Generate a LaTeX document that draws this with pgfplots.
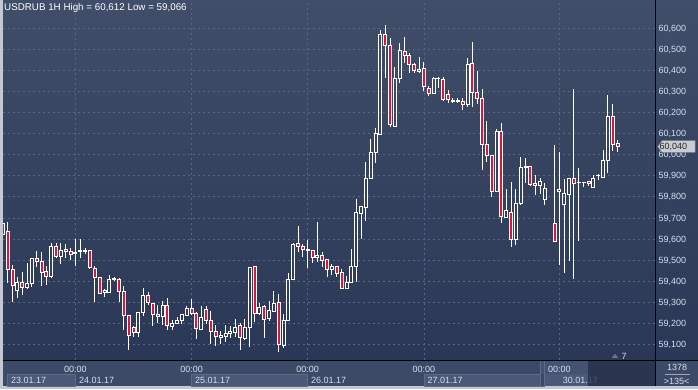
\documentclass[border=0pt]{standalone}
\usepackage{fontspec}
\setmainfont{Liberation Sans}
\usepackage{pgfplots}
\usepackage{pgfplotstable}
\pgfplotsset{compat=1.18}
\definecolor{framecol}{HTML}{C2C8D4}
\definecolor{bgtop}{HTML}{404E69}
\definecolor{bgbot}{HTML}{2A3756}
\definecolor{stripcol}{HTML}{3D4A67}
\definecolor{datebox}{HTML}{4B5877}
\definecolor{boxline}{HTML}{5E6A86}
\definecolor{darkreg}{HTML}{26324B}
\definecolor{gridcol}{HTML}{56658A}
\definecolor{labelcol}{HTML}{D4E0F2}
\definecolor{candlered}{RGB}{226,18,56}
\definecolor{pricebox}{HTML}{C8CCD4}
\definecolor{tricol}{HTML}{6A7488}
\newcommand\fs{\fontsize{9}{10}\selectfont}
\newcommand\ft{\fontsize{9.8}{11}\selectfont}
\pgfplotstableread{
i o h l c
1 59.674 59.680 59.619 59.622
2 59.638 59.680 59.390 59.456
3 59.456 59.477 59.303 59.380
4 59.355 59.418 59.322 59.396
5 59.396 59.444 59.336 59.371
6 59.369 59.485 59.365 59.390
7 59.390 59.508 59.374 59.508
8 59.508 59.543 59.469 59.494
9 59.494 59.538 59.379 59.442
10 59.448 59.472 59.384 59.423
11 59.421 59.583 59.418 59.567
12 59.567 59.583 59.511 59.516
13 59.516 59.579 59.483 59.548
14 59.551 59.576 59.508 59.543
15 59.541 59.556 59.500 59.529
16 59.530 59.600 59.474 59.535
17 59.543 59.598 59.508 59.544
18 59.544 59.556 59.527 59.543
19 59.546 59.546 59.461 59.464
20 59.461 59.472 59.303 59.418
21 59.418 59.418 59.342 59.342
22 59.346 59.361 59.327 59.355
23 59.349 59.428 59.342 59.409
24 59.406 59.421 59.401 59.414
25 59.409 59.414 59.303 59.353
26 59.353 59.377 59.169 59.238
27 59.238 59.238 59.074 59.143
28 59.183 59.188 59.137 59.158
29 59.158 59.252 59.137 59.252
30 59.252 59.366 59.235 59.333
31 59.333 59.350 59.287 59.298
32 59.295 59.295 59.189 59.243
33 59.243 59.287 59.200 59.232
34 59.232 59.306 59.192 59.285
35 59.285 59.319 59.169 59.188
36 59.185 59.216 59.169 59.200
37 59.200 59.232 59.197 59.214
38 59.214 59.243 59.197 59.243
39 59.240 59.282 59.235 59.271
40 59.271 59.316 59.240 59.248
41 59.248 59.256 59.125 59.177
42 59.172 59.282 59.169 59.229
43 59.268 59.282 59.197 59.216
44 59.213 59.259 59.101 59.164
45 59.162 59.192 59.094 59.140
46 59.134 59.165 59.101 59.145
47 59.140 59.192 59.113 59.153
48 59.153 59.188 59.129 59.164
49 59.158 59.221 59.137 59.181
50 59.188 59.200 59.074 59.134
51 59.128 59.219 59.125 59.181
52 59.181 59.466 59.090 59.466
53 59.472 59.472 59.208 59.248
54 59.248 59.295 59.240 59.276
55 59.279 59.287 59.129 59.219
56 59.224 59.308 59.213 59.259
57 59.257 59.353 59.254 59.295
58 59.300 59.339 59.066 59.102
59 59.094 59.245 59.082 59.216
60 59.216 59.440 59.216 59.409
61 59.409 59.583 59.406 59.575
62 59.579 59.662 59.537 59.567
63 59.564 59.575 59.513 59.551
64 59.548 59.595 59.461 59.549
65 59.548 59.548 59.485 59.513
66 59.513 59.682 59.493 59.524
67 59.524 59.537 59.466 59.497
68 59.504 59.504 59.418 59.456
69 59.456 59.482 59.429 59.469
70 59.472 59.472 59.421 59.437
71 59.442 59.456 59.363 59.366
72 59.366 59.425 59.363 59.395
73 59.395 59.553 59.390 59.472
74 59.472 59.790 59.395 59.726
75 59.722 59.758 59.598 59.753
76 59.750 59.963 59.687 59.887
77 59.887 60.074 59.887 60.011
78 60.011 60.124 59.959 60.098
79 60.096 60.590 60.093 60.570
80 60.570 60.612 60.361 60.519
81 60.519 60.551 60.129 60.145
82 60.135 60.417 60.132 60.361
83 60.361 60.530 60.338 60.493
84 60.491 60.559 60.436 60.469
85 60.472 60.480 60.388 60.428
86 60.429 60.436 60.385 60.398
87 60.393 60.464 60.388 60.404
88 60.409 60.440 60.303 60.325
89 60.314 60.325 60.279 60.290
90 60.290 60.369 60.290 60.361
91 60.361 60.366 60.314 60.362
92 60.357 60.369 60.254 60.262
93 60.287 60.306 60.246 60.259
94 60.254 60.267 60.246 60.255
95 60.254 60.267 60.243 60.255
96 60.251 60.267 60.211 60.240
97 60.240 60.456 60.227 60.428
98 60.432 60.532 60.224 60.295
99 60.295 60.396 60.240 60.267
100 60.267 60.309 59.927 60.049
101 60.049 60.161 59.963 59.995
102 59.998 59.998 59.797 59.824
103 59.824 60.121 59.824 60.112
104 60.112 60.148 59.674 59.706
105 59.703 59.835 59.703 59.733
106 59.726 59.869 59.560 59.598
107 59.598 59.835 59.571 59.769
108 59.769 59.990 59.761 59.938
109 59.938 59.982 59.864 59.943
110 59.943 59.946 59.853 59.859
111 59.864 59.903 59.808 59.853
112 59.853 59.887 59.813 59.875
113 59.788 59.864 59.761 59.840
115 59.674 60.045 59.587 59.587
116 59.824 60.011 59.477 59.835
117 59.764 59.884 59.440 59.816
118 59.812 59.888 59.497 59.888
119 59.888 60.309 59.410 59.864
120 59.867 59.935 59.592 59.868
121 59.868 59.872 59.845 59.869
122 59.875 59.875 59.851 59.864
123 59.843 59.903 59.843 59.888
124 59.899 59.908 59.880 59.900
125 59.892 60.022 59.888 59.971
126 59.971 60.282 59.914 60.180
127 60.180 60.240 60.019 60.049
128 60.053 60.069 60.014 60.040
}\candles
\pgfplotsset{candleaxis/.style={at={(3pt,29pt)}, anchor=south west, scale only axis,
  width=652pt, height=360pt, xmin=1.037, xmax=135.75, ymin=59.0265, ymax=60.7327}}
\begin{document}
\begin{tikzpicture}
\useasboundingbox (0pt,0pt) rectangle (698pt,389pt);
\fill[framecol] (0pt,0pt) rectangle (698pt,389pt);
\shade[top color=bgtop, bottom color=bgbot] (3pt,29pt) rectangle (698pt,389pt);
\fill[stripcol] (3pt,3pt) rectangle (698pt,28.5pt);
% date boxes
\fill[datebox] (7.5pt,3pt) rectangle (75.4pt,15pt);
\fill[datebox] (191.6pt,3pt) rectangle (307.7pt,15pt);
\fill[datebox] (423.9pt,3pt) rectangle (540pt,15pt);
\fill[datebox!60!stripcol] (540pt,15pt) rectangle (588pt,28.5pt);
\fill[datebox] (544pt,3pt) rectangle (588pt,15pt);
\draw[boxline, line width=0.6pt] (7.5pt,3pt) rectangle (75.4pt,15pt);
\draw[boxline, line width=0.6pt] (191.6pt,3pt) rectangle (307.7pt,15pt);
\draw[boxline, line width=0.6pt] (423.9pt,3pt) rectangle (540pt,15pt);
\draw[boxline, line width=0.6pt] (540pt,3pt) rectangle (544pt,28.5pt);
\node[anchor=base west, inner sep=0pt, font=\fs, text=labelcol] at (11pt,6pt) {23.01.17};
\node[anchor=base west, inner sep=0pt, font=\fs, text=labelcol] at (79pt,6pt) {24.01.17};
\node[anchor=base west, inner sep=0pt, font=\fs, text=labelcol] at (195pt,6pt) {25.01.17};
\node[anchor=base west, inner sep=0pt, font=\fs, text=labelcol] at (311pt,6pt) {26.01.17};
\node[anchor=base west, inner sep=0pt, font=\fs, text=labelcol] at (427.3pt,6pt) {27.01.17};
\node[anchor=base west, inner sep=0pt, font=\fs, text=labelcol] at (562.7pt,6pt) {30.01.17};
\fill[darkreg, opacity=0.8] (588pt,3pt) rectangle (655pt,28.5pt);
% main axis: grid, labels, wicks
\begin{axis}[candleaxis,
  axis line style={draw=none}, tick style={draw=none}, major tick length=0pt,
  grid=major, major grid style={gridcol, dash pattern=on 2pt off 3pt, line width=0.7pt},
  ytick={59.1,59.2,59.3,59.4,59.5,59.6,59.7,59.8,59.9,60.0,60.1,60.2,60.3,60.4,60.5,60.6},
  yticklabel pos=right,
  /pgf/number format/assume math mode=true,
  y tick label style={/pgf/number format/fixed, /pgf/number format/fixed zerofill,
    /pgf/number format/precision=3, /pgf/number format/use comma},
  yticklabel style={anchor=base west, inner sep=0pt, xshift=3.3pt, yshift=-3.2pt, font=\fs, text=labelcol},
  xtick={16,40,64,88,116},
  xticklabels={00:00,00:00,00:00,00:00,00:00},
  xticklabel style={anchor=base, inner sep=0pt, yshift=-12pt, font=\fs, text=labelcol},
]
\addplot[draw=none, mark=none, error bars/.cd, y dir=plus, y explicit, error mark=none,
  error bar style={draw=white, line width=0.9pt}]
  table[x=i, y expr={max(\thisrow{o},\thisrow{c})}, y error expr={\thisrow{h}-max(\thisrow{o},\thisrow{c})}] {\candles};
\addplot[draw=none, mark=none, error bars/.cd, y dir=minus, y explicit, error mark=none,
  error bar style={draw=white, line width=0.9pt}]
  table[x=i, y expr={min(\thisrow{o},\thisrow{c})}, y error expr={min(\thisrow{o},\thisrow{c})-\thisrow{l}}] {\candles};
\end{axis}
% bodies
\begin{axis}[candleaxis, hide axis, ybar stacked, bar width=3pt]
\addplot[draw=none, fill=none] table[x=i, y expr={min(\thisrow{o},\thisrow{c})}] {\candles};
\addplot[draw=white, fill=candlered, line width=0.9pt] table[x=i, y expr={max(\thisrow{o}-\thisrow{c},0)}] {\candles};
\addplot[draw=white, fill=none, line width=0.9pt] table[x=i, y expr={max(\thisrow{c}-\thisrow{o},0)}] {\candles};
\end{axis}
% separators
\draw[black, line width=1pt] (655pt,3pt) -- (655pt,389pt);
\draw[black, line width=1pt] (3pt,29pt) -- (698pt,29pt);
% title
\node[anchor=base west, inner sep=0pt, font=\ft, text=white] at (4pt,378pt) {USDRUB 1H High = 60,612 Low = 59,066};
% current price
\filldraw[fill=pricebox, draw=gray, line width=0.5pt] (657.7pt,242.4pt) -- (662pt,248.3pt) -- (695pt,248.3pt) -- (695pt,236.7pt) -- (662pt,236.7pt) -- cycle;
\node[anchor=base west, inner sep=0pt, font=\fs, text=black!85] at (659.5pt,239.2pt) {60,040};
% marker 7
\fill[tricol] (611.5pt,31pt) -- (618.5pt,31pt) -- (615pt,35.3pt) -- cycle;
\node[anchor=base west, inner sep=0pt, font=\fs, text=labelcol] at (621.5pt,30pt) {7};
% bottom right box
\node[anchor=base, inner sep=0pt, font=\fs, text=labelcol] at (677pt,18.3pt) {1378};
\draw[gray!70, line width=0.6pt] (665pt,15pt) -- (690pt,15pt);
\node[anchor=base, inner sep=0pt, font=\fs, text=labelcol] at (676.7pt,5pt) {>135<};
\end{tikzpicture}
\end{document}
